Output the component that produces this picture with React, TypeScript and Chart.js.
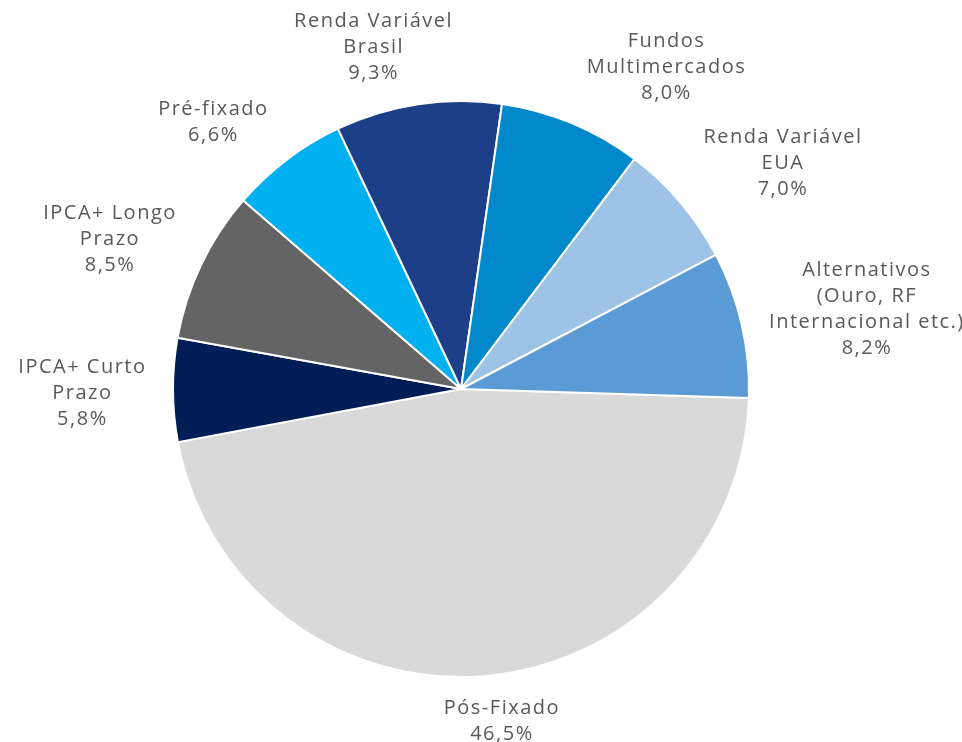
import React, { useEffect, useRef } from "react";
import { Chart, registerables } from "chart.js";

Chart.register(...registerables);

const categories: string[][] = [
  ["Pós-Fixado"],
  ["IPCA+ Curto", "Prazo"],
  ["IPCA+ Longo", "Prazo"],
  ["Pré-fixado"],
  ["Renda Variável", "Brasil"],
  ["Fundos", "Multimercados"],
  ["Renda Variável", "EUA"],
  ["Alternativos", "(Ouro, RF", "Internacional etc.)"],
];
const values: number[] = [46.5, 5.8, 8.5, 6.6, 9.3, 8.0, 7.0, 8.2];
const colors: string[] = [
  "#d9d9d9",
  "#001e55",
  "#646464",
  "#00b0f0",
  "#1d3f88",
  "#0088cb",
  "#9dc3e6",
  "#5b9bd5",
];

const FONT = "20px 'Open Sans', sans-serif";
const SPACING = 1.5;
const LINE_H = 26;

const outsideLabels = {
  id: "outsideLabels",
  afterDatasetsDraw(chart: any) {
    const ctx = chart.ctx;
    const meta = chart.getDatasetMeta(0);
    ctx.save();
    ctx.font = FONT;
    (ctx as any).letterSpacing = SPACING + "px";
    ctx.fillStyle = "#595959";
    ctx.textAlign = "center";
    ctx.textBaseline = "middle";
    meta.data.forEach((arc: any, i: number) => {
      const { x, y, startAngle, endAngle, outerRadius } = arc.getProps(
        ["x", "y", "startAngle", "endAngle", "outerRadius"],
        true
      );
      const mid = (startAngle + endAngle) / 2;
      const ux = Math.cos(mid);
      const uy = Math.sin(mid);
      const r = outerRadius + 21;
      const ax = x + r * ux;
      const ay = y + r * uy;
      const lines = [
        ...categories[i],
        values[i].toFixed(1).replace(".", ",") + "%",
      ];
      const w = Math.max(...lines.map((l) => ctx.measureText(l).width)) - SPACING;
      const h = lines.length * LINE_H;
      const fx = Math.sign(ux) * Math.min(1, 3.3 * Math.abs(ux));
      const fy = Math.sign(uy) * Math.min(1, 1.15 * Math.abs(uy));
      const cx = ax + fx * (w / 2 + 7);
      const cy = ay + (fy * h) / 2 + 3 - (uy > 0 ? 5 * fy : 0);
      lines.forEach((l, k) => {
        ctx.fillText(l, cx + SPACING / 2, cy - h / 2 + LINE_H / 2 + k * LINE_H);
      });
    });
    ctx.restore();
  },
};

export default function App() {
  const ref = useRef<HTMLCanvasElement>(null);
  useEffect(() => {
    if (!ref.current) return;
    const chart = new Chart(ref.current, {
      type: "pie",
      data: {
        labels: categories.map((c) => c.join(" ")),
        datasets: [
          {
            data: values,
            backgroundColor: colors,
            borderColor: "#ffffff",
            borderWidth: 2,
          },
        ],
      },
      options: {
        responsive: false,
        animation: false,
        devicePixelRatio: 1,
        rotation: 91.8,
        layout: { padding: { top: 100, bottom: 64, left: 172, right: 212 } },
        plugins: {
          legend: { display: false },
          tooltip: { enabled: false },
        },
      },
      plugins: [outsideLabels],
    });
    return () => chart.destroy();
  }, []);
  return (
    <div style={{ position: "fixed", left: 0, top: 0, width: 962, height: 742, background: "#fff" }}>
      <canvas ref={ref} width={962} height={742} />
    </div>
  );
}
